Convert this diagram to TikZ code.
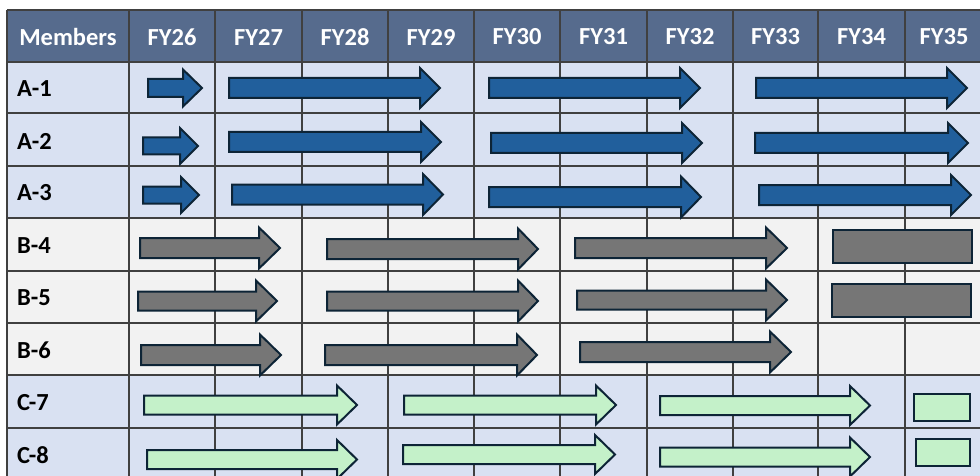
\documentclass[tikz,border=0pt]{standalone}
\usepackage{fontspec}
\setmainfont{Carlito}
\definecolor{hdr}{HTML}{566B8D}
\definecolor{rowA}{HTML}{D9E1F2}
\definecolor{rowB}{HTML}{F2F2F2}
\definecolor{gridc}{HTML}{404040}
\definecolor{edgec}{HTML}{0D2436}
\definecolor{bluef}{HTML}{215F9C}
\definecolor{grayf}{HTML}{767676}
\definecolor{greenf}{HTML}{C4F1C9}
\newcommand\ganttarrow[7]{%
  \draw[#1] (#2,#4-#5) -- (#3-#7,#4-#5) -- (#3-#7,#4-#6) -- (#3,#4)
    -- (#3-#7,#4+#6) -- (#3-#7,#4+#5) -- (#2,#4+#5) -- cycle;}
\tikzset{
  shapeedge/.style={draw=edgec, line width=2pt, line join=miter},
  bluebar/.style={shapeedge, fill=bluef},
  graybar/.style={shapeedge, fill=grayf},
  greenbar/.style={shapeedge, fill=greenf},
  gridline/.style={draw=gridc, line width=1.1pt},
  hdrtext/.style={font=\bfseries\fontsize{24.5}{27}\selectfont, text=white, inner sep=0pt},
  rowtext/.style={font=\bfseries\fontsize{24.5}{27}\selectfont, text=black, inner sep=0pt, anchor=west}
}
\begin{document}
\begin{tikzpicture}[x=1pt,y=-1pt]
\useasboundingbox (0,0) rectangle (980,476);
\begin{scope}
\clip (0,0) rectangle (980,476);
\fill[hdr] (7,10) rectangle (1000,62);
\fill[rowA] (7,62) rectangle (1000,218);
\fill[rowB] (7,218) rectangle (1000,375);
\fill[rowA] (7,375) rectangle (1000,500);
\foreach \x in {7,129,215,302,388,474,560,647,733,818,905}
  \draw[gridline] (\x,10) -- (\x,500);
\foreach \y in {10,62,113,166,218,271,323,375,428}
  \draw[gridline] (7,\y) -- (1000,\y);
\end{scope}
% header
\node[hdrtext] (hm) at (68,37) {Members};
\node[hdrtext] (h26) at (172,37) {FY26};
\node[hdrtext] (h27) at (258.5,37) {FY27};
\node[hdrtext] (h28) at (345,37) {FY28};
\node[hdrtext] (h29) at (431,37) {FY29};
\node[hdrtext] (h30) at (517,37) {FY30};
\node[hdrtext] (h31) at (603.5,37) {FY31};
\node[hdrtext] (h32) at (690,37) {FY32};
\node[hdrtext] (h33) at (775.5,37) {FY33};
\node[hdrtext] (h34) at (861.5,37) {FY34};
\node[hdrtext] (h35) at (944,37) {FY35};
% row labels
\node[rowtext] (la1) at (17,89) {A-1};
\node[rowtext] (la2) at (17,141) {A-2};
\node[rowtext] (la3) at (17,193) {A-3};
\node[rowtext] (lb4) at (17,246) {B-4};
\node[rowtext] (lb5) at (17,298) {B-5};
\node[rowtext] (lb6) at (17,350) {B-6};
\node[rowtext] (lc7) at (17,403) {C-7};
\node[rowtext] (lc8) at (17,455) {C-8};
% A rows
\ganttarrow{bluebar}{148}{202}{88}{9}{18.5}{19}
\ganttarrow{bluebar}{229}{440}{88}{10}{20}{20}
\ganttarrow{bluebar}{489}{700}{88}{10}{20}{20}
\ganttarrow{bluebar}{756}{967}{88}{10}{20}{20}
\ganttarrow{bluebar}{143}{198}{146}{8.5}{18}{18}
\ganttarrow{bluebar}{229}{441}{142}{10}{20}{20}
\ganttarrow{bluebar}{491}{702}{143}{10}{20}{20}
\ganttarrow{bluebar}{755}{968}{143}{10}{20}{20}
\ganttarrow{bluebar}{143}{199}{195}{8.5}{18}{18}
\ganttarrow{bluebar}{232}{443}{194.5}{10}{20.5}{20}
\ganttarrow{bluebar}{489}{701}{197}{10}{20.5}{20}
\ganttarrow{bluebar}{759}{971}{195}{10}{20}{20}
% B rows
\ganttarrow{graybar}{140}{280}{248}{10}{20.5}{21}
\ganttarrow{graybar}{327}{538}{249}{10}{20.5}{20}
\ganttarrow{graybar}{575}{787}{248}{10}{20.5}{21}
\draw[graybar] (833,230) rectangle (972,263);
\ganttarrow{graybar}{138}{277}{301}{9.5}{20.5}{21}
\ganttarrow{graybar}{327}{538}{301}{9.5}{20.5}{20}
\ganttarrow{graybar}{577}{787}{300}{9.5}{20.5}{21}
\draw[graybar] (832,284) rectangle (971,317);
\ganttarrow{graybar}{141}{281}{355}{10}{20.5}{21}
\ganttarrow{graybar}{325}{537}{355}{10}{20.5}{20}
\ganttarrow{graybar}{580}{791}{352}{10}{20.5}{21}
% C rows
\ganttarrow{greenbar}{144}{357}{405}{9.5}{19.5}{20}
\ganttarrow{greenbar}{404}{616}{405}{9.5}{19.5}{20}
\ganttarrow{greenbar}{660}{870}{405.5}{9.5}{19.5}{20}
\draw[greenbar] (914,394) rectangle (970,421);
\ganttarrow{greenbar}{147}{357}{459.5}{9.5}{19.5}{20}
\ganttarrow{greenbar}{403}{615}{454.5}{9.5}{19.5}{20}
\ganttarrow{greenbar}{660}{870}{457}{9.5}{19.5}{20}
\draw[greenbar] (916,439) rectangle (970,466);
\end{tikzpicture}
\end{document}
